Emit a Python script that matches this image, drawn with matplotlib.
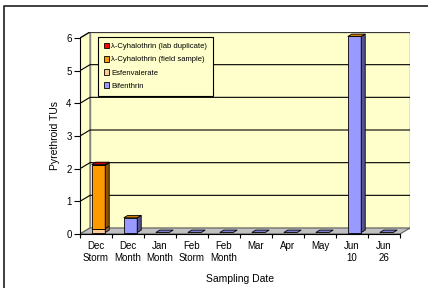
import numpy as np
import matplotlib
matplotlib.use("Agg")
import matplotlib.pyplot as plt
from matplotlib.patches import Polygon, Patch
from matplotlib.lines import Line2D
from matplotlib.colors import to_rgb

plt.rcParams['font.family'] = ['Liberation Sans', 'DejaVu Sans']

# ---- data ----
categories = ["Dec\nStorm", "Dec\nMonth", "Jan\nMonth", "Feb\nStorm", "Feb\nMonth",
              "Mar", "Apr", "May", "Jun\n10", "Jun\n26"]
bifenthrin = [0.0, 0.45, 0.0, 0.0, 0.0, 0.0, 0.0, 0.0, 6.0, 0.0]
esfenvalerate = [0.12, np.nan, np.nan, np.nan, np.nan, np.nan, np.nan, np.nan, np.nan, np.nan]
cyh_field = [1.94, 0.0, np.nan, np.nan, np.nan, np.nan, np.nan, np.nan, 0.0, np.nan]
cyh_lab = [0.02, np.nan, np.nan, np.nan, np.nan, np.nan, np.nan, np.nan, np.nan, np.nan]
series_names = ["Bifenthrin", "Esfenvalerate", "λ-Cyhalothrin (field sample)",
                "λ-Cyhalothrin (lab duplicate)"]
series_colors = ["#9999FF", "#FFCC99", "#FF9900", "#FF0000"]
y_ticks = [0, 1, 2, 3, 4, 5, 6]
y_label = "Pyrethroid TUs"
x_label = "Sampling Date"

series = [bifenthrin, esfenvalerate, cyh_field, cyh_lab]

W, H = 428, 288
fig = plt.figure(figsize=(W / 100, H / 100), dpi=100)
fig.patch.set_facecolor("white")

# axes placement (pixels)
ax_l, ax_r, ax_b, ax_t = 80, 410, 234, 32
ax = fig.add_axes([ax_l / W, 1 - ax_b / H, (ax_r - ax_l) / W, (ax_b - ax_t) / H])
ax.set_facecolor("none")

n = len(categories)
ymax = 6
DX = 10 / 32.0
DY = 6 / 32.7
ax.set_xlim(-0.5, n - 0.5 + DX)
ax.set_ylim(0, ymax + DY)

wall_c = "#FFFFCC"
edge_c = "#808080"
# back wall
ax.add_patch(Polygon([(-0.5 + DX, DY), (n - 0.5 + DX, DY), (n - 0.5 + DX, ymax + DY),
                      (-0.5 + DX, ymax + DY)], closed=True, facecolor=wall_c,
                     edgecolor=edge_c, lw=1.0, zorder=0))
# left wall
ax.add_patch(Polygon([(-0.5, 0), (-0.5 + DX, DY), (-0.5 + DX, ymax + DY), (-0.5, ymax)],
                     closed=True, facecolor=wall_c, edgecolor=edge_c, lw=1.0, zorder=0))
# floor
ax.add_patch(Polygon([(-0.5, 0), (n - 0.5, 0), (n - 0.5 + DX, DY), (-0.5 + DX, DY)],
                     closed=True, facecolor="#C0C0C0", edgecolor="#606060", lw=0.8, zorder=0.5))
# gridlines
for t in y_ticks[1:]:
    ax.plot([-0.5, -0.5 + DX, n - 0.5 + DX], [t, t + DY, t + DY], color="black",
            lw=0.8, zorder=0.8)

# bars
w = 0.42
f0, f1 = 0.25, 0.65


def shade(c, k):
    r, g, b = to_rgb(c)
    return (r * k, g * k, b * k)


for i in range(n):
    bottom = 0.0
    top_color = None
    for s, col in zip(series, series_colors):
        v = s[i]
        if np.isnan(v):
            continue
        x0 = i - w / 2 + f0 * DX
        x1 = i + w / 2 + f0 * DX
        y0 = bottom + f0 * DY
        y1 = bottom + v + f0 * DY
        ddx = (f1 - f0) * DX
        ddy = (f1 - f0) * DY
        if v > 0:
            ax.bar(i + f0 * DX, v, width=w, bottom=y0, color=col, edgecolor="black",
                   lw=0.6, zorder=2 + i * 0.01)
            ax.add_patch(Polygon([(x1, y0), (x1 + ddx, y0 + ddy), (x1 + ddx, y1 + ddy), (x1, y1)],
                                 closed=True, facecolor=shade(col, 0.55), edgecolor="black",
                                 lw=0.6, zorder=2 + i * 0.01))
        bottom += v
        top_color = col
    if top_color is not None:
        x0 = i - w / 2 + f0 * DX
        x1 = i + w / 2 + f0 * DX
        yt = bottom + f0 * DY
        ddx = (f1 - f0) * DX
        ddy = (f1 - f0) * DY
        ax.add_patch(Polygon([(x0, yt), (x1, yt), (x1 + ddx, yt + ddy), (x0 + ddx, yt + ddy)],
                             closed=True, facecolor=shade(top_color, 0.8), edgecolor="black",
                             lw=0.6, zorder=2.005 + i * 0.01))

# axes styling
for sp in ["top", "right"]:
    ax.spines[sp].set_visible(False)
ax.spines["left"].set_bounds(0, ymax)
ax.spines["left"].set_position(("data", -0.5))
ax.spines["bottom"].set_bounds(-0.5, n - 0.5)
ax.spines["left"].set_linewidth(0.8)
ax.spines["bottom"].set_linewidth(0.8)
ax.set_yticks(y_ticks)
ax.set_yticklabels([str(t) for t in y_ticks])
ax.tick_params(axis="y", length=4, width=0.8, pad=2, labelsize=7)
ax.set_xticks(range(n))
ax.set_xticklabels(categories, fontsize=7, linespacing=1.3)
ax.set_xticks(np.arange(-0.5, n, 1.0), minor=True)
ax.tick_params(axis="x", which="major", length=0, pad=5)
ax.tick_params(axis="x", which="minor", length=3, width=0.8)

# legend
handles = [Patch(facecolor=c, edgecolor="black", lw=0.6, label=lab)
           for c, lab in zip(series_colors, series_names)][::-1]
leg = ax.legend(handles=handles, loc="upper left", bbox_to_anchor=(0.0545, 0.975),
                borderaxespad=0, fontsize=5.5, frameon=True, fancybox=False,
                handlelength=0.75, handleheight=0.75, handletextpad=0.2,
                labelspacing=0.75, borderpad=0.75)
leg.get_frame().set_edgecolor("black")
leg.get_frame().set_linewidth(0.8)
leg.get_frame().set_facecolor(wall_c)
leg.get_frame().set_alpha(1)
leg.set_zorder(10)

# axis labels
fig.text(55 / W, 1 - 136 / H, y_label, rotation=90, ha="center", va="center", fontsize=7.5)
fig.text(240 / W, 1 - 279 / H, x_label, ha="center", va="center", fontsize=7.5)

# outer chart border (left and top visible)
fig.add_artist(Line2D([4 / W, 4 / W, 1.05], [-0.05, 1 - 6 / H, 1 - 6 / H],
                      transform=fig.transFigure, color="#303030", lw=1.3))

fig.savefig("out.png", dpi=100)
